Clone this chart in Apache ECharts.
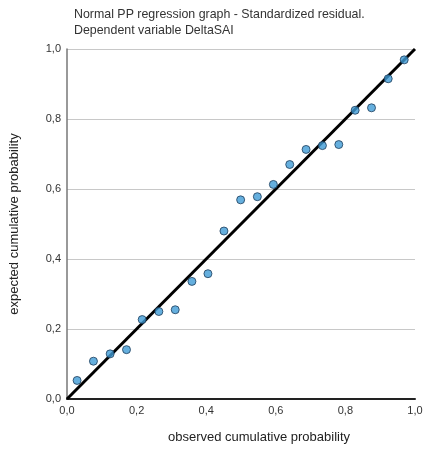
<!DOCTYPE html>
<html>
<head>
<meta charset="utf-8">
<script src="https://cdn.jsdelivr.net/npm/echarts@6/dist/echarts.min.js"></script>
<style>
  html, body { margin: 0; padding: 0; background: #fff; }
  #chart { width: 426px; height: 454px; }
</style>
</head>
<body>
<div id="chart"></div>
<script>
// observed vs expected cumulative probability
const observed = [0.029, 0.076, 0.124, 0.171, 0.216, 0.264, 0.311, 0.359, 0.405, 0.451, 0.499,
                  0.547, 0.593, 0.640, 0.687, 0.734, 0.781, 0.828, 0.875, 0.923, 0.969];
const expected = [0.053, 0.108, 0.129, 0.141, 0.227, 0.250, 0.255, 0.336, 0.358, 0.480, 0.569,
                  0.578, 0.613, 0.670, 0.713, 0.724, 0.727, 0.825, 0.832, 0.915, 0.969];
const refLine = [[0, 0], [1, 1]];
const titleLines = ["Normal PP regression graph - Standardized residual.", "Dependent variable DeltaSAI"];

const fmtTick = (v) => v.toFixed(1).replace(".", ",");
const font = "Liberation Sans, Arial, sans-serif";

const chart = echarts.init(document.getElementById("chart"));
chart.setOption({
  animation: false,
  title: {
    text: titleLines.join("\n"),
    left: 69,
    top: 2,
    textStyle: { fontFamily: font, fontSize: 12.4, fontWeight: "normal", color: "#333", lineHeight: 16 },
  },
  grid: { left: 65, right: 11, top: 49, bottom: 55 },
  xAxis: {
    type: "value",
    min: 0, max: 1, interval: 0.2,
    name: "observed cumulative probability",
    nameLocation: "middle",
    nameGap: 32,
    nameTextStyle: { fontFamily: font, fontSize: 13, color: "#222", padding: [0, 0, 0, 36] },
    axisLine: { lineStyle: { color: "#222", width: 2 } },
    axisTick: { show: false },
    splitLine: { show: false },
    axisLabel: { fontFamily: font, fontSize: 11, color: "#333", margin: 6, formatter: fmtTick },
  },
  yAxis: {
    type: "value",
    min: 0, max: 1, interval: 0.2,
    name: "expected cumulative probability",
    nameLocation: "middle",
    nameGap: 46,
    nameTextStyle: { fontFamily: font, fontSize: 13, color: "#222" },
    axisLine: { show: true, lineStyle: { color: "#777", width: 1.5 } },
    axisTick: { show: false },
    splitLine: { lineStyle: { color: "#c8c8c8", width: 1 } },
    axisLabel: { fontFamily: font, fontSize: 11, color: "#333", margin: 6, formatter: fmtTick },
  },
  series: [
    {
      type: "line",
      data: refLine,
      showSymbol: false,
      lineStyle: { color: "#000", width: 3 },
      z: 3,
    },
    {
      type: "scatter",
      data: observed.map((x, i) => [x, expected[i]]),
      symbolSize: 8,
      itemStyle: { color: "#3f9bd6", borderColor: "#1d3c5a", borderWidth: 1 },
      z: 4,
    },
  ],
});
</script>
</body>
</html>
